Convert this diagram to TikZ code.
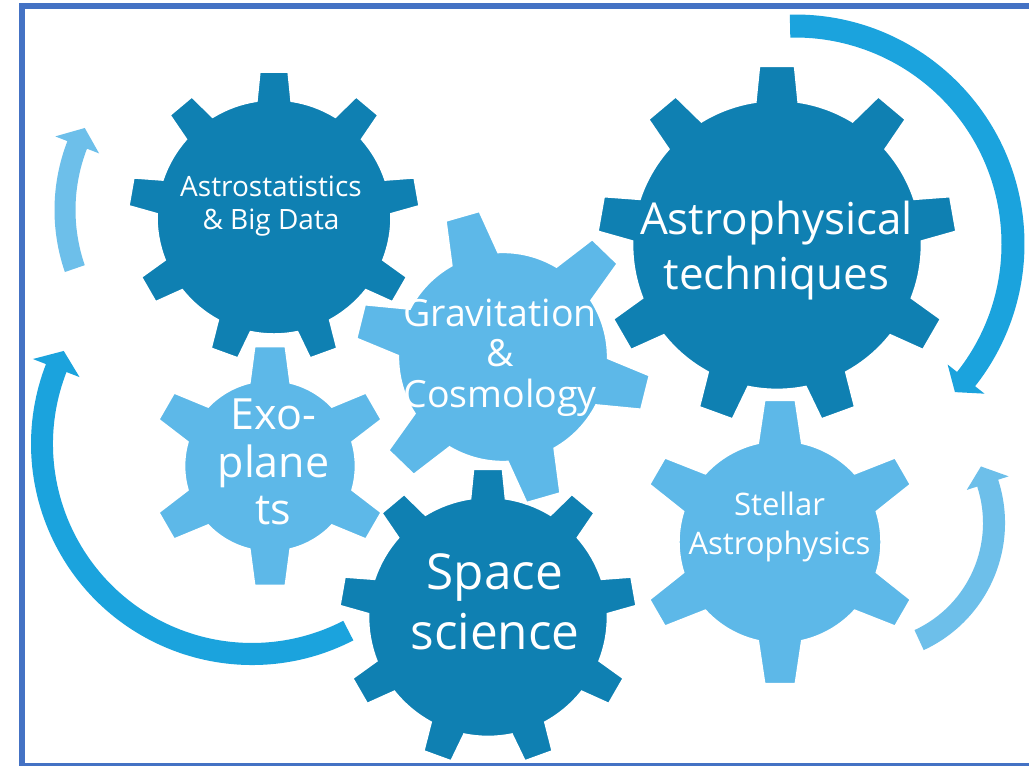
\documentclass[tikz,border=0pt]{standalone}
\usepackage{fontspec}
\setmainfont{Open Sans}
\definecolor{darkgear}{HTML}{0F80B2}
\definecolor{lightgear}{HTML}{5DB8E8}
\definecolor{bigarrow}{HTML}{1BA3DD}
\definecolor{smallarrow}{HTML}{6DBFEA}
\definecolor{frameblue}{HTML}{4472C4}

% #1 cx, #2 cy, #3 outer radius, #4 teeth, #5 first tooth angle,
% #6 body ratio, #7 tip half-width ratio, #8 base half-width ratio, #9 colour
\newcommand\drawgear[9]{%
  \pgfmathsetmacro\gR{#3}%
  \pgfmathsetmacro\gRb{#3*#6}%
  \pgfmathsetmacro\gstep{360/#4}%
  \pgfmathsetmacro\gdt{asin(#7)}%
  \pgfmathsetmacro\gdb{asin(#8/#6)}%
  \pgfmathtruncatemacro\glast{#4-1}%
  \begin{scope}[shift={(#1,#2)}]
    \filldraw[gearbody, fill=#9] ({#5-\gdb}:\gRb)
      \foreach \k in {0,...,\glast}{
        -- ({#5+\k*\gstep-\gdt}:\gR) -- ({#5+\k*\gstep+\gdt}:\gR)
        -- ({#5+\k*\gstep+\gdb}:\gRb)
        arc[start angle={#5+\k*\gstep+\gdb}, end angle={#5+(\k+1)*\gstep-\gdb}, radius=\gRb]
      } -- cycle;
  \end{scope}}

% #1 cx, #2 cy, #3 radius, #4 half shaft width, #5 half head width,
% #6 start angle, #7 barb angle, #8 tip angle, #9 colour
\newcommand\drawcircarrow[9]{%
  \begin{scope}[shift={(#1,#2)}]
    \fill[#9] (#6:{#3+#4}) arc[start angle=#6, end angle=#7, radius={#3+#4}]
      -- (#7:{#3+#5}) -- (#8:#3) -- (#7:{#3-#5}) -- (#7:{#3-#4})
      arc[start angle=#7, end angle=#6, radius={#3-#4}] -- cycle;
  \end{scope}}

\begin{document}
\begin{tikzpicture}[x=1pt, y=1pt,
  gearbody/.style={draw=white, line width=2.5pt, line join=miter},
  gearlabel/.style={anchor=base, inner sep=0pt, text=white}]
\useasboundingbox (0,0) rectangle (1029,766);
\clip (0,0) rectangle (1029,766);
\fill[white] (0,0) rectangle (1029,766);

% frame
\draw[frameblue, line width=6pt] (21.5,760) rectangle (1045,0);

% circular arrows
\drawcircarrow{795}{522}{218}{11.5}{23.5}{91.3}{-38.3}{-42.8}{bigarrow}
\drawcircarrow{252}{322}{210}{11}{25}{-62.7}{-201.2}{-206.3}{bigarrow}
\drawcircarrow{245}{556}{180}{10.5}{23.5}{199}{158.8}{152.9}{smallarrow}
\drawcircarrow{865}{243}{129}{11}{22}{-65.2}{18}{26}{smallarrow}

% gears
\drawgear{274}{549}{146}{9}{90}{0.805}{0.1}{0.12}{darkgear}
\drawgear{777}{521}{180}{9}{90}{0.805}{0.1}{0.12}{darkgear}
\drawgear{488}{149}{149}{9}{90}{0.805}{0.1}{0.12}{darkgear}
\drawgear{503}{409}{148}{6}{106}{0.71}{0.12}{0.165}{lightgear}
\drawgear{270}{300}{121}{6}{90}{0.71}{0.13}{0.17}{lightgear}
\drawgear{780}{224}{143}{6}{90}{0.71}{0.11}{0.155}{lightgear}

% labels
\node[gearlabel, font=\fontsize{28}{33}\selectfont] (astrostat) at (271,569)
  {\begin{tabular}[t]{@{}c@{}}Astrostatistics\\\& Big Data\end{tabular}};
\node[gearlabel, font=\fontsize{44}{55}\selectfont] (astrophys) at (776.5,531)
  {\begin{tabular}[t]{@{}c@{}}Astrophysical\\techniques\end{tabular}};
\node[gearlabel, font=\fontsize{37.5}{40}\selectfont] (gravitation) at (500,439)
  {\begin{tabular}[t]{@{}c@{}}Gravitation\\\&\\Cosmology\end{tabular}};
\node[gearlabel, font=\fontsize{43}{47.5}\selectfont] (exoplanets) at (273.5,336)
  {\begin{tabular}[t]{@{}c@{}}Exo-\\plane\\ts\end{tabular}};
\node[gearlabel, font=\fontsize{49.5}{60}\selectfont] (space) at (495,176)
  {\begin{tabular}[t]{@{}c@{}}Space\\science\end{tabular}};
\node[gearlabel, font=\fontsize{31}{39}\selectfont] (stellar) at (779.5,250)
  {\begin{tabular}[t]{@{}c@{}}Stellar\\Astrophysics\end{tabular}};
\end{tikzpicture}
\end{document}
